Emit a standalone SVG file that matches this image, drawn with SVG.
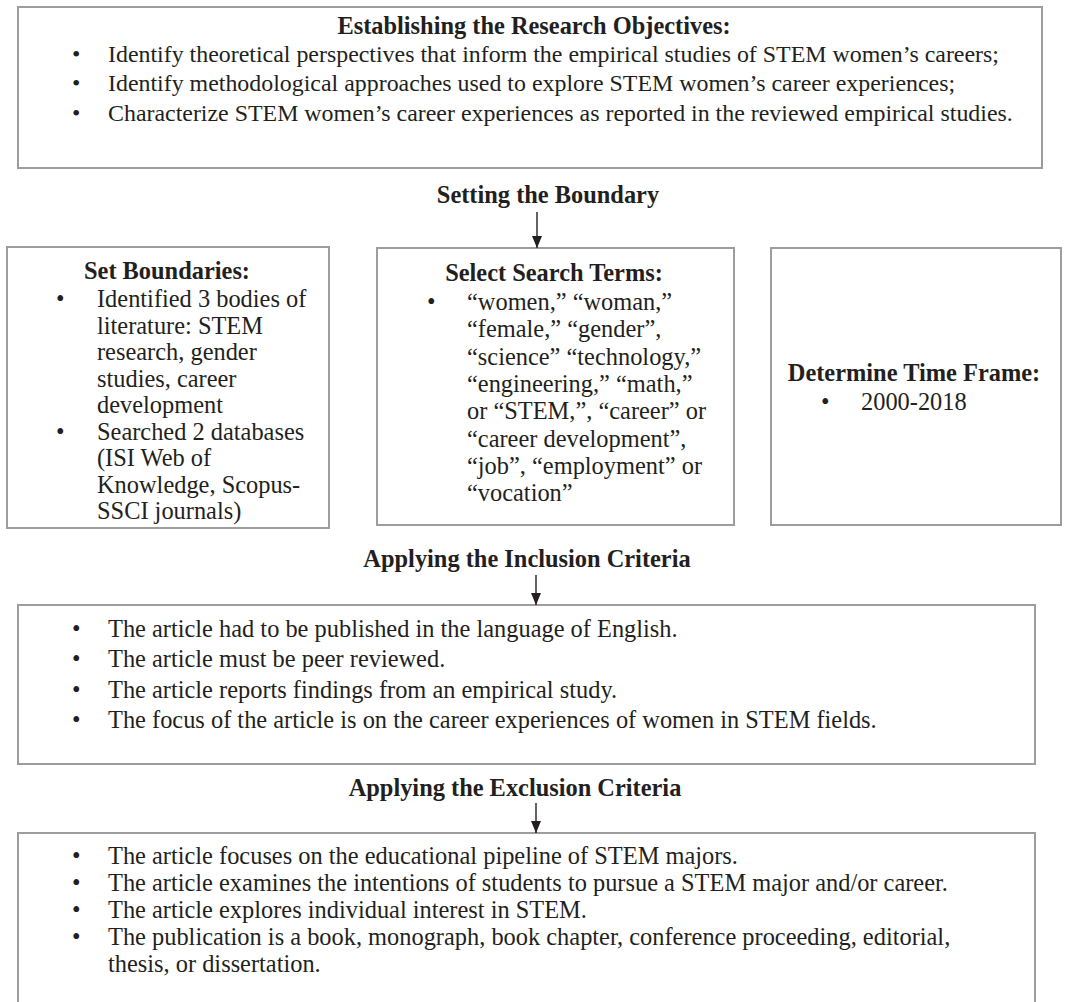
<svg xmlns="http://www.w3.org/2000/svg" width="1065" height="1002" viewBox="0 0 1065 1002">
<style>
  .box { fill: #ffffff; stroke: #9d9d9f; stroke-width: 2; }
  text { font-family: "Liberation Serif", "Times New Roman", serif; font-size: 24.4px; fill: #231f20; }
  .top text { font-size: 23.9px; }
  .h { font-weight: bold; text-anchor: middle; }
  .conn { stroke: #231f20; stroke-width: 1.4; fill: none; }
</style>
<defs>
  <marker id="arr" viewBox="0 0 12 10" refX="12" refY="5" markerWidth="12" markerHeight="10" markerUnits="userSpaceOnUse" orient="auto">
    <path d="M0,0 L12,5 L0,10 z" fill="#231f20"/>
  </marker>
</defs>
<rect width="1065" height="1002" fill="#ffffff"/>

<g id="objectives" class="top">
  <rect class="box" x="18" y="7" width="1024" height="161"/>
  <text class="h" x="534" y="34" style="font-size:24.4px">Establishing the Research Objectives:</text>
  <text x="72" y="62">•</text><text x="108" y="62">Identify theoretical perspectives that inform the empirical studies of STEM women’s careers;</text>
  <text x="72" y="91">•</text><text x="108" y="91">Identify methodological approaches used to explore STEM women’s career experiences;</text>
  <text x="72" y="120.5">•</text><text x="108" y="120.5">Characterize STEM women’s career experiences as reported in the reviewed empirical studies.</text>
</g>

<g id="setting-label">
  <text class="h" x="548" y="203">Setting the Boundary</text>
</g>

<g id="set-boundaries">
  <rect class="box" x="7" y="247" width="322" height="281"/>
  <text class="h" x="167" y="279">Set Boundaries:</text>
  <text x="56" y="307">•</text><text x="97" y="307">Identified 3 bodies of</text>
  <text x="97" y="333.5">literature: STEM</text>
  <text x="97" y="360">research, gender</text>
  <text x="97" y="386.5">studies, career</text>
  <text x="97" y="413">development</text>
  <text x="56" y="439.5">•</text><text x="97" y="439.5">Searched 2 databases</text>
  <text x="97" y="466">(ISI Web of</text>
  <text x="97" y="492.5">Knowledge, Scopus-</text>
  <text x="97" y="519">SSCI journals)</text>
</g>

<g id="search-terms">
  <rect class="box" x="377" y="248" width="357" height="277"/>
  <text class="h" x="554" y="281">Select Search Terms:</text>
  <text x="427" y="310">•</text><text x="467" y="310">“women,” “woman,”</text>
  <text x="467" y="337.3">“female,” “gender”,</text>
  <text x="467" y="364.6">“science” “technology,”</text>
  <text x="467" y="391.9">“engineering,” “math,”</text>
  <text x="467" y="419.2">or “STEM,”, “career” or</text>
  <text x="467" y="446.5">“career development”,</text>
  <text x="467" y="473.8">“job”, “employment” or</text>
  <text x="467" y="501.1">“vocation”</text>
</g>

<g id="time-frame">
  <rect class="box" x="771" y="248" width="290" height="277"/>
  <text class="h" x="914" y="381">Determine Time Frame:</text>
  <text x="821" y="410">•</text><text x="861" y="410">2000-2018</text>
</g>

<g id="inclusion-label">
  <text class="h" x="527" y="567">Applying the Inclusion Criteria</text>
</g>

<g id="inclusion">
  <rect class="box" x="18" y="605" width="1017" height="159"/>
  <text x="72" y="637">•</text><text x="108" y="637">The article had to be published in the language of English.</text>
  <text x="72" y="667.3">•</text><text x="108" y="667.3">The article must be peer reviewed.</text>
  <text x="72" y="697.6">•</text><text x="108" y="697.6">The article reports findings from an empirical study.</text>
  <text x="72" y="727.9">•</text><text x="108" y="727.9">The focus of the article is on the career experiences of women in STEM fields.</text>
</g>

<g id="exclusion-label">
  <text class="h" x="515" y="796">Applying the Exclusion Criteria</text>
</g>

<g id="exclusion">
  <rect class="box" x="18" y="833" width="1017" height="200"/>
  <text x="72" y="864">•</text><text x="108" y="864">The article focuses on the educational pipeline of STEM majors.</text>
  <text x="72" y="891">•</text><text x="108" y="891">The article examines the intentions of students to pursue a STEM major and/or career.</text>
  <text x="72" y="918">•</text><text x="108" y="918">The article explores individual interest in STEM.</text>
  <text x="72" y="945">•</text><text x="108" y="945">The publication is a book, monograph, book chapter, conference proceeding, editorial,</text>
  <text x="108" y="972">thesis, or dissertation.</text>
</g>

<g id="connectors">
  <line class="conn" x1="537" y1="212" x2="537" y2="248" marker-end="url(#arr)"/>
  <line class="conn" x1="536" y1="575" x2="536" y2="605" marker-end="url(#arr)"/>
  <line class="conn" x1="536" y1="803" x2="536" y2="833" marker-end="url(#arr)"/>
</g>
</svg>
